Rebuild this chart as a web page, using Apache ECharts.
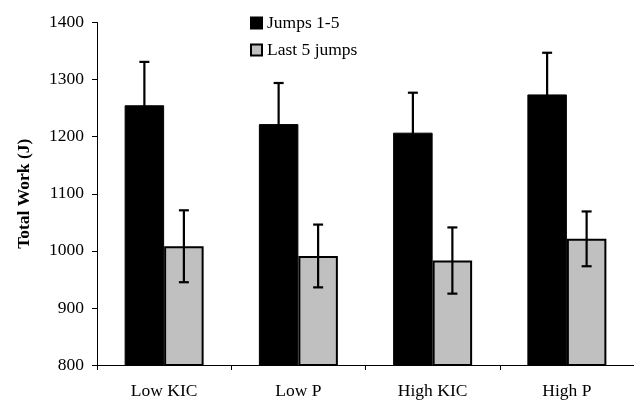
<!DOCTYPE html>
<html>
<head>
<meta charset="utf-8">
<script src="https://cdn.jsdelivr.net/npm/echarts@6/dist/echarts.min.js"></script>
<style>html,body{margin:0;padding:0;background:#fff}#c{width:634px;height:400px}</style>
</head>
<body>
<div id="c"></div>
<script>
var categories = ['Low KIC', 'Low P', 'High KIC', 'High P'];
var seriesNames = ['Jumps 1-5', 'Last 5 jumps'];
var jumps15 = [1255, 1222, 1207, 1274];
var jumps15Err = [76, 72, 70, 73];
var last5 = [1008, 991, 983, 1021];
var last5Err = [63, 55, 58, 48];
var yTicks = {min: 800, max: 1400, interval: 100};

var FONT = 'Liberation Serif';
var FS = 17.5;
var BAR_W = 39.5;

function errData(vals, errs) {
  return vals.map(function (v, i) { return [i, v - errs[i], v + errs[i]]; });
}

function errRenderer(offsetSign) {
  return function (params, api) {
    var idx = api.value(0);
    var lo = api.coord([idx, api.value(1)]);
    var hi = api.coord([idx, api.value(2)]);
    var x = lo[0] + offsetSign * BAR_W / 2;
    var cap = 5;
    var style = {stroke: '#000', lineWidth: 2.2, fill: null};
    return {
      type: 'group',
      children: [
        {type: 'line', shape: {x1: x, y1: lo[1], x2: x, y2: hi[1]}, style: style},
        {type: 'line', shape: {x1: x - cap, y1: hi[1], x2: x + cap, y2: hi[1]}, style: style},
        {type: 'line', shape: {x1: x - cap, y1: lo[1], x2: x + cap, y2: lo[1]}, style: style}
      ]
    };
  };
}

var chart = echarts.init(document.getElementById('c'));
chart.setOption({
  animation: false,
  backgroundColor: '#fff',
  textStyle: {fontFamily: FONT, color: '#000'},
  legend: {
    orient: 'vertical',
    left: 250,
    top: 14,
    padding: 0,
    itemWidth: 11,
    itemHeight: 11,
    itemGap: 9,
    itemTextGap: 5,
    icon: 'rect',
    textStyle: {fontFamily: FONT, fontSize: FS, color: '#000'},
    data: seriesNames
  },
  grid: {left: 97, right: -12, top: 22.5, bottom: 35, containLabel: false},
  xAxis: {
    type: 'category',
    data: categories,
    axisLine: {lineStyle: {color: '#000', width: 1}},
    axisTick: {show: true, length: 5, lineStyle: {color: '#000'}},
    axisLabel: {fontFamily: FONT, fontSize: FS, color: '#000', margin: 17}
  },
  yAxis: {
    type: 'value',
    min: yTicks.min,
    max: yTicks.max,
    interval: yTicks.interval,
    name: 'Total Work (J)',
    nameLocation: 'middle',
    nameGap: 64,
    nameTextStyle: {fontFamily: FONT, fontSize: FS, fontWeight: 'bold', color: '#000'},
    axisLine: {show: true, lineStyle: {color: '#000', width: 1}},
    axisTick: {show: true, length: 5, lineStyle: {color: '#000'}},
    axisLabel: {fontFamily: FONT, fontSize: FS, color: '#000', margin: 13,
      formatter: function (v) { return String(v); }},
    splitLine: {show: false}
  },
  series: [
    {
      name: seriesNames[0], type: 'bar', data: jumps15, barWidth: BAR_W, barGap: '0%',
      itemStyle: {color: '#000', borderColor: '#000', borderWidth: 1}
    },
    {
      name: seriesNames[1], type: 'bar', data: last5, barWidth: BAR_W, barGap: '0%',
      itemStyle: {color: '#c0c0c0', borderColor: '#000', borderWidth: 2}
    },
    {
      type: 'custom', renderItem: errRenderer(-1), data: errData(jumps15, jumps15Err),
      encode: {x: 0, y: [1, 2]}, z: 10, silent: true
    },
    {
      type: 'custom', renderItem: errRenderer(1), data: errData(last5, last5Err),
      encode: {x: 0, y: [1, 2]}, z: 10, silent: true
    }
  ]
});
</script>
</body>
</html>
